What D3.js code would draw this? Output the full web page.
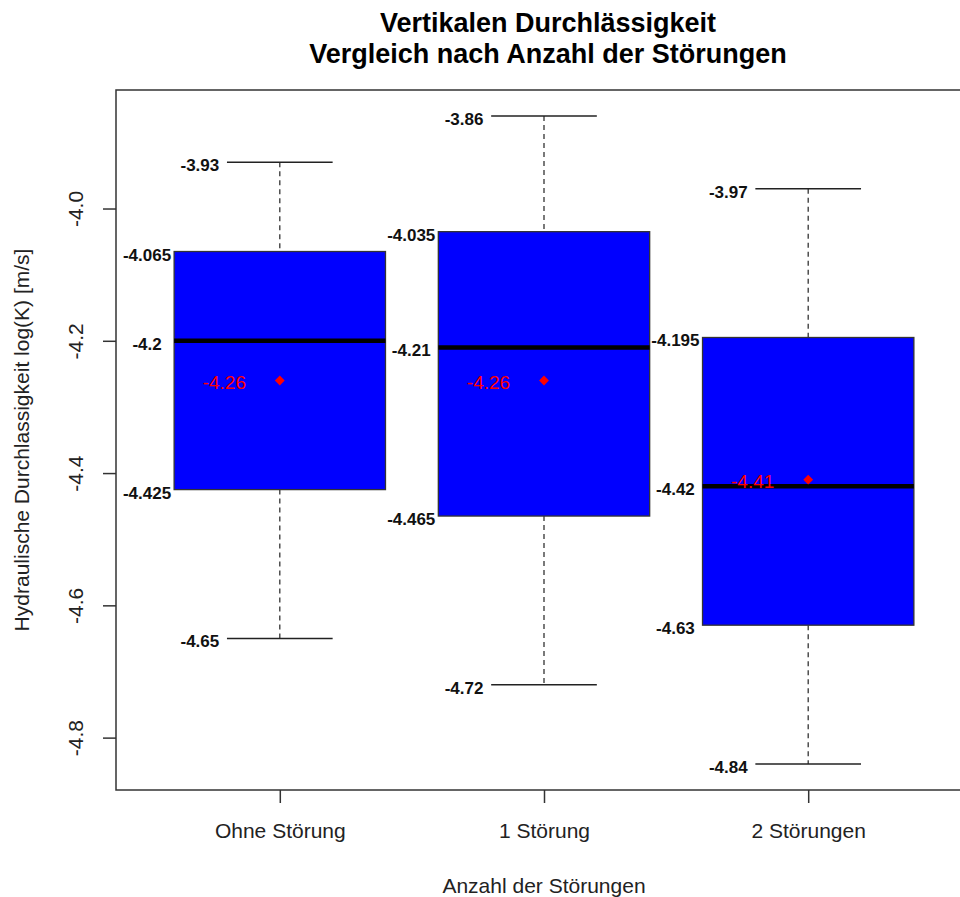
<!DOCTYPE html>
<html>
<head>
<meta charset="utf-8">
<script src="https://cdn.jsdelivr.net/npm/d3@7"></script>
<style>
  html, body { margin: 0; padding: 0; background: #fff; }
  svg text { font-family: "Liberation Sans", Arial, sans-serif; }
</style>
</head>
<body>
<svg id="chart" width="960" height="897"></svg>
<script>
const categories = ["Ohne Störung", "1 Störung", "2 Störungen"];
const whiskerHigh = [-3.93, -3.86, -3.97];
const q3 = [-4.065, -4.035, -4.195];
const median = [-4.2, -4.21, -4.42];
const mean = [-4.26, -4.26, -4.41];
const q1 = [-4.425, -4.465, -4.63];
const whiskerLow = [-4.65, -4.72, -4.84];
const yTicks = [-4.8, -4.6, -4.4, -4.2, -4.0];
const titleLines = ["Vertikalen Durchlässigkeit", "Vergleich nach Anzahl der Störungen"];
const xLabel = "Anzahl der Störungen";
const yLabel = "Hydraulische Durchlassigkeit log(K) [m/s]";

(function () {
const svg = d3.select("#chart");
const pLeft = 116, pRight = 972, pTop = 90, pBottom = 790;

const x = d3.scaleLinear().domain([0.38, 3.62]).range([pLeft, pRight]);
const y = d3.scaleLinear().domain([-4.8792, -3.8208]).range([pBottom, pTop]);

const boxW = 0.8, capW = 0.4;
const data = categories.map((c, i) => ({
  c, pos: i + 1,
  hi: whiskerHigh[i], q3: q3[i], med: median[i], mean: mean[i], q1: q1[i], lo: whiskerLow[i]
}));

const g = svg.append("g");

// whiskers (dashed)
g.selectAll(".wu").data(data).enter().append("line")
  .attr("x1", d => x(d.pos)).attr("x2", d => x(d.pos))
  .attr("y1", d => y(d.hi)).attr("y2", d => y(d.q3))
  .attr("stroke", "#333").attr("stroke-width", 1.3).attr("stroke-dasharray", "5,4");
g.selectAll(".wl").data(data).enter().append("line")
  .attr("x1", d => x(d.pos)).attr("x2", d => x(d.pos))
  .attr("y1", d => y(d.q1)).attr("y2", d => y(d.lo))
  .attr("stroke", "#333").attr("stroke-width", 1.3).attr("stroke-dasharray", "5,4");

// caps
["hi", "lo"].forEach(k => {
  g.selectAll(".cap" + k).data(data).enter().append("line")
    .attr("x1", d => x(d.pos - capW / 2)).attr("x2", d => x(d.pos + capW / 2))
    .attr("y1", d => y(d[k])).attr("y2", d => y(d[k]))
    .attr("stroke", "#222").attr("stroke-width", 1.5);
});

// boxes
g.selectAll(".box").data(data).enter().append("rect")
  .attr("x", d => x(d.pos - boxW / 2))
  .attr("width", d => x(d.pos + boxW / 2) - x(d.pos - boxW / 2))
  .attr("y", d => y(d.q3))
  .attr("height", d => y(d.q1) - y(d.q3))
  .attr("fill", "#0000FF").attr("stroke", "#333").attr("stroke-width", 1.3);

// medians
g.selectAll(".med").data(data).enter().append("line")
  .attr("x1", d => x(d.pos - boxW / 2)).attr("x2", d => x(d.pos + boxW / 2))
  .attr("y1", d => y(d.med)).attr("y2", d => y(d.med))
  .attr("stroke", "#000").attr("stroke-width", 4.5);

// mean points
g.selectAll(".meanpt").data(data).enter().append("path")
  .attr("d", d3.symbol(d3.symbolSquare, 48))
  .attr("transform", d => `translate(${x(d.pos)},${y(d.mean)}) rotate(45)`)
  .attr("fill", "#FF0000");

// mean labels
g.selectAll(".meanlbl").data(data).enter().append("text")
  .attr("x", d => x(d.pos - 0.21)).attr("y", d => y(d.mean) + 8.5)
  .attr("text-anchor", "middle").attr("font-size", 19).attr("fill", "#FF0000")
  .text(d => String(d.mean));

// value labels
["q3", "med", "q1"].forEach(k => {
  g.selectAll(".lbl" + k).data(data).enter().append("text")
    .attr("x", d => x(d.pos - boxW / 2 - 0.1025)).attr("y", d => y(d[k]) + 9)
    .attr("text-anchor", "middle").attr("font-size", 17).attr("font-weight", "bold")
    .attr("fill", "#111").text(d => String(d[k]));
});
["hi", "lo"].forEach(k => {
  g.selectAll(".wlbl" + k).data(data).enter().append("text")
    .attr("x", d => x(d.pos - capW / 2 - 0.1025)).attr("y", d => y(d[k]) + 9)
    .attr("text-anchor", "middle").attr("font-size", 17).attr("font-weight", "bold")
    .attr("fill", "#111").text(d => String(d[k]));
});

// plot frame
svg.append("rect").attr("x", pLeft).attr("y", pTop)
  .attr("width", pRight - pLeft).attr("height", pBottom - pTop)
  .attr("fill", "none").attr("stroke", "#333").attr("stroke-width", 1.5);

// y axis
const yAxis = d3.axisLeft(y).tickValues(yTicks).tickSize(13).tickPadding(0).tickFormat(d => d.toFixed(1));
const ya = svg.append("g").attr("transform", `translate(${pLeft},0)`).call(yAxis);
ya.select(".domain").remove();
ya.selectAll(".tick line").attr("stroke", "#333").attr("stroke-width", 1.5);
ya.selectAll(".tick text")
  .attr("x", 0).attr("y", 0).attr("dy", 0)
  .attr("transform", `translate(${83 - pLeft},0) rotate(-90)`)
  .attr("text-anchor", "middle").attr("font-size", 21).attr("fill", "#222")
  .style("font-family", "'Liberation Sans', Arial, sans-serif");

// x axis
const xAxis = d3.axisBottom(x).tickValues(data.map(d => d.pos)).tickSize(13).tickPadding(0)
  .tickFormat((d, i) => categories[i]);
const xa = svg.append("g").attr("transform", `translate(0,${pBottom})`).call(xAxis);
xa.select(".domain").remove();
xa.selectAll(".tick line").attr("stroke", "#333").attr("stroke-width", 1.5);
xa.selectAll(".tick text")
  .attr("y", 48).attr("dy", 0).attr("font-size", 21).attr("fill", "#222")
  .style("font-family", "'Liberation Sans', Arial, sans-serif");

// axis titles
svg.append("text").attr("x", (pLeft + pRight) / 2).attr("y", 893)
  .attr("text-anchor", "middle").attr("font-size", 21).attr("fill", "#222").text(xLabel);
svg.append("text").attr("transform", `translate(29,${(pTop + pBottom) / 2}) rotate(-90)`)
  .attr("text-anchor", "middle").attr("font-size", 21).attr("fill", "#222").text(yLabel);

// title
titleLines.forEach((t, i) => {
  svg.append("text").attr("x", (pLeft + pRight) / 2 + 4).attr("y", 31.5 + i * 31.5)
    .attr("text-anchor", "middle").attr("font-size", 27).attr("font-weight", "bold")
    .attr("fill", "#000").text(t);
});
})();
</script>
</body>
</html>
